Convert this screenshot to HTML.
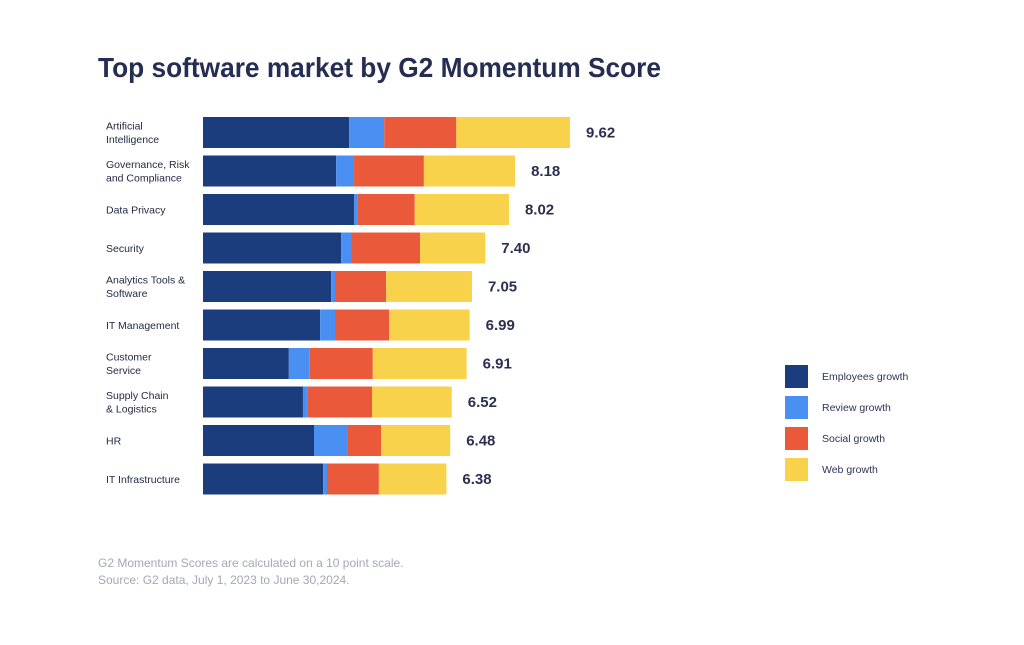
<!DOCTYPE html>
<html><head><meta charset="utf-8"><style>
body{margin:0;background:#fff;width:1024px;height:640px;overflow:hidden;font-family:"Liberation Sans",sans-serif}
</style></head><body>
<svg id="chart" width="1024" height="640">
<text x="98" y="77" font-size="28" font-weight="bold" fill="#252d52" textLength="563" lengthAdjust="spacingAndGlyphs">Top software market by G2 Momentum Score</text>
<g id="bars"></g>
<g id="legend"></g>
<text x="98" y="567" font-size="12" fill="#a3a8b8">G2 Momentum Scores are calculated on a 10 point scale.</text>
<text x="98" y="584" font-size="12" fill="#a3a8b8">Source: G2 data, July 1, 2023 to June 30,2024.</text>
</svg>
<script>
const categories=[["Artificial","Intelligence"],["Governance, Risk","and Compliance"],["Data Privacy"],["Security"],["Analytics Tools &","Software"],["IT Management"],["Customer","Service"],["Supply Chain","& Logistics"],["HR"],["IT Infrastructure"]];
const employees=[3.83,3.49,3.96,3.62,3.36,3.07,2.25,2.62,2.91,3.15];
const review=[0.92,0.47,0.10,0.26,0.10,0.39,0.55,0.13,0.89,0.10];
const social=[1.89,1.83,1.49,1.81,1.34,1.42,1.65,1.68,0.87,1.36];
const web=[2.98,2.39,2.47,1.71,2.25,2.11,2.46,2.09,1.81,1.77];
const totals=["9.62","8.18","8.02","7.40","7.05","6.99","6.91","6.52","6.48","6.38"];
const seriesNames=["Employees growth","Review growth","Social growth","Web growth"];
const colors=["#1b3d7e","#4a8ff2","#ea593a","#f9d24b"];
const NS="http://www.w3.org/2000/svg";
const x0=203,pxPer=38.15,y0=117,pitch=38.5,bh=31;
const xs=v=>v*pxPer;
const yRow=i=>y0+i*pitch;
function mk(tag,attrs){const e=document.createElementNS(NS,tag);for(const k in attrs)e.setAttribute(k,attrs[k]);return e;}
const g=document.getElementById('bars');
const series=[employees,review,social,web];
categories.forEach((c,i)=>{
  let x=x0;const y=yRow(i);
  series.forEach((s,j)=>{
    const r=mk('rect',{x:x,y:y,width:xs(s[i]),height:bh,fill:colors[j]});
    
    
    g.appendChild(r);x+=xs(s[i]);
  });
  const v=mk('text',{x:x+16,y:y+bh/2+5,'font-size':15,'font-weight':'bold',fill:'#2b3050'});
  v.textContent=totals[i];
  
  
  g.appendChild(v);
  const t=mk('text',{x:106,'font-size':10.5,fill:'#252a45'});
  
  
  const ly=c.length==1?y+bh/2+4:y+bh/2-3;
  c.forEach((line,k)=>{const ts=mk('tspan',{x:106,y:ly+k*13.5});ts.textContent=line;t.appendChild(ts);});
  g.appendChild(t);
});
const lg=document.getElementById('legend');
seriesNames.forEach((n,j)=>{
  const y=365+j*31;
  const r=mk('rect',{x:785,y:y,width:23,height:23,fill:colors[j]});
  
  
  lg.appendChild(r);
  const t=mk('text',{x:822,y:y+15,'font-size':10.5,fill:'#2e3356'});
  t.textContent=n;
  
  
  lg.appendChild(t);
});
</script>
</body></html>
